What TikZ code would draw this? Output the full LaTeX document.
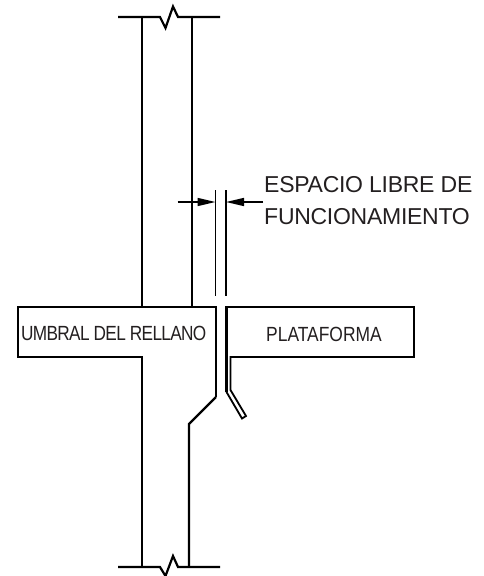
\documentclass[tikz,border=0pt]{standalone}
\usepackage{fontspec}
\setmainfont{Liberation Sans}
\usetikzlibrary{arrows.meta}
\newcommand{\labelfont}{\fontsize{23}{27}\selectfont\addfontfeature{LetterSpace=-1.2}}
\newcommand{\sillfont}{\fontsize{20.5}{24}\selectfont\addfontfeature{FakeStretch=0.84,LetterSpace=-3.3}}
\newcommand{\platfont}{\fontsize{20.5}{24}\selectfont\addfontfeature{FakeStretch=0.85}}
\definecolor{inktext}{HTML}{231F20}
\begin{document}
\begin{tikzpicture}[x=1pt,y=-1pt,>={Stealth[length=18pt,width=8pt,inset=0pt]}, line join=miter, line cap=butt]
	\tikzset{wall/.style={line width=2.2pt,black}, gapline/.style={line width=1.8pt,black}, dim/.style={line width=1.5pt,black,->}, label/.style={text=inktext,inner sep=0pt,anchor=base west}}
	\useasboundingbox (0,0) rectangle (484,576);
	% walls above the sill
	\draw[wall] (118,17)--(160,17)--(165.5,28)--(173,6.5)--(178,17)--(220,17);
	\draw[wall] (142,17)--(142,307) (192,17)--(192,307);
	% sill and wall below
	\draw[wall] (216,397)--(216,307)--(18,307)--(18,357)--(142,357)--(142,567);
	\draw[wall] (216,397)--(189,424)--(189,567);
	\draw[wall] (118,567)--(160,567)--(165.5,576)--(173,556)--(178,567)--(220,567);
	% platform
	\draw[wall] (226.5,392)--(226.5,307)--(414,307)--(414,357)--(230.5,357);
	\draw[line width=1.8pt] (230.5,356)--(230.5,390)--(246,416)--(242,418.5)--(226.5,392);
	% clearance
	\coordinate (gapL) at (215.5,202);
	\coordinate (gapR) at (226,202);
	\coordinate (tailL) at (177.5,202);
	\coordinate (tailR) at (263,202);
	\draw[gapline] (215.5,190)--(215.5,296) (226,190)--(226,296);
	\draw[dim] (tailL)--(gapL);
	\draw[dim] (tailR)--(gapR);
	% texts
	\node[label] (espacio) at (264,192) {\labelfont ESPACIO LIBRE DE};
	\node[label] (funcion) at (264,224) {\labelfont FUNCIONAMIENTO};
	\node[label] (umbral) at (21,340) {\sillfont UMBRAL DEL RELLANO};
	\node[label] (plataforma) at (266,341) {\platfont PLATAFORMA};
\end{tikzpicture}
\end{document}
